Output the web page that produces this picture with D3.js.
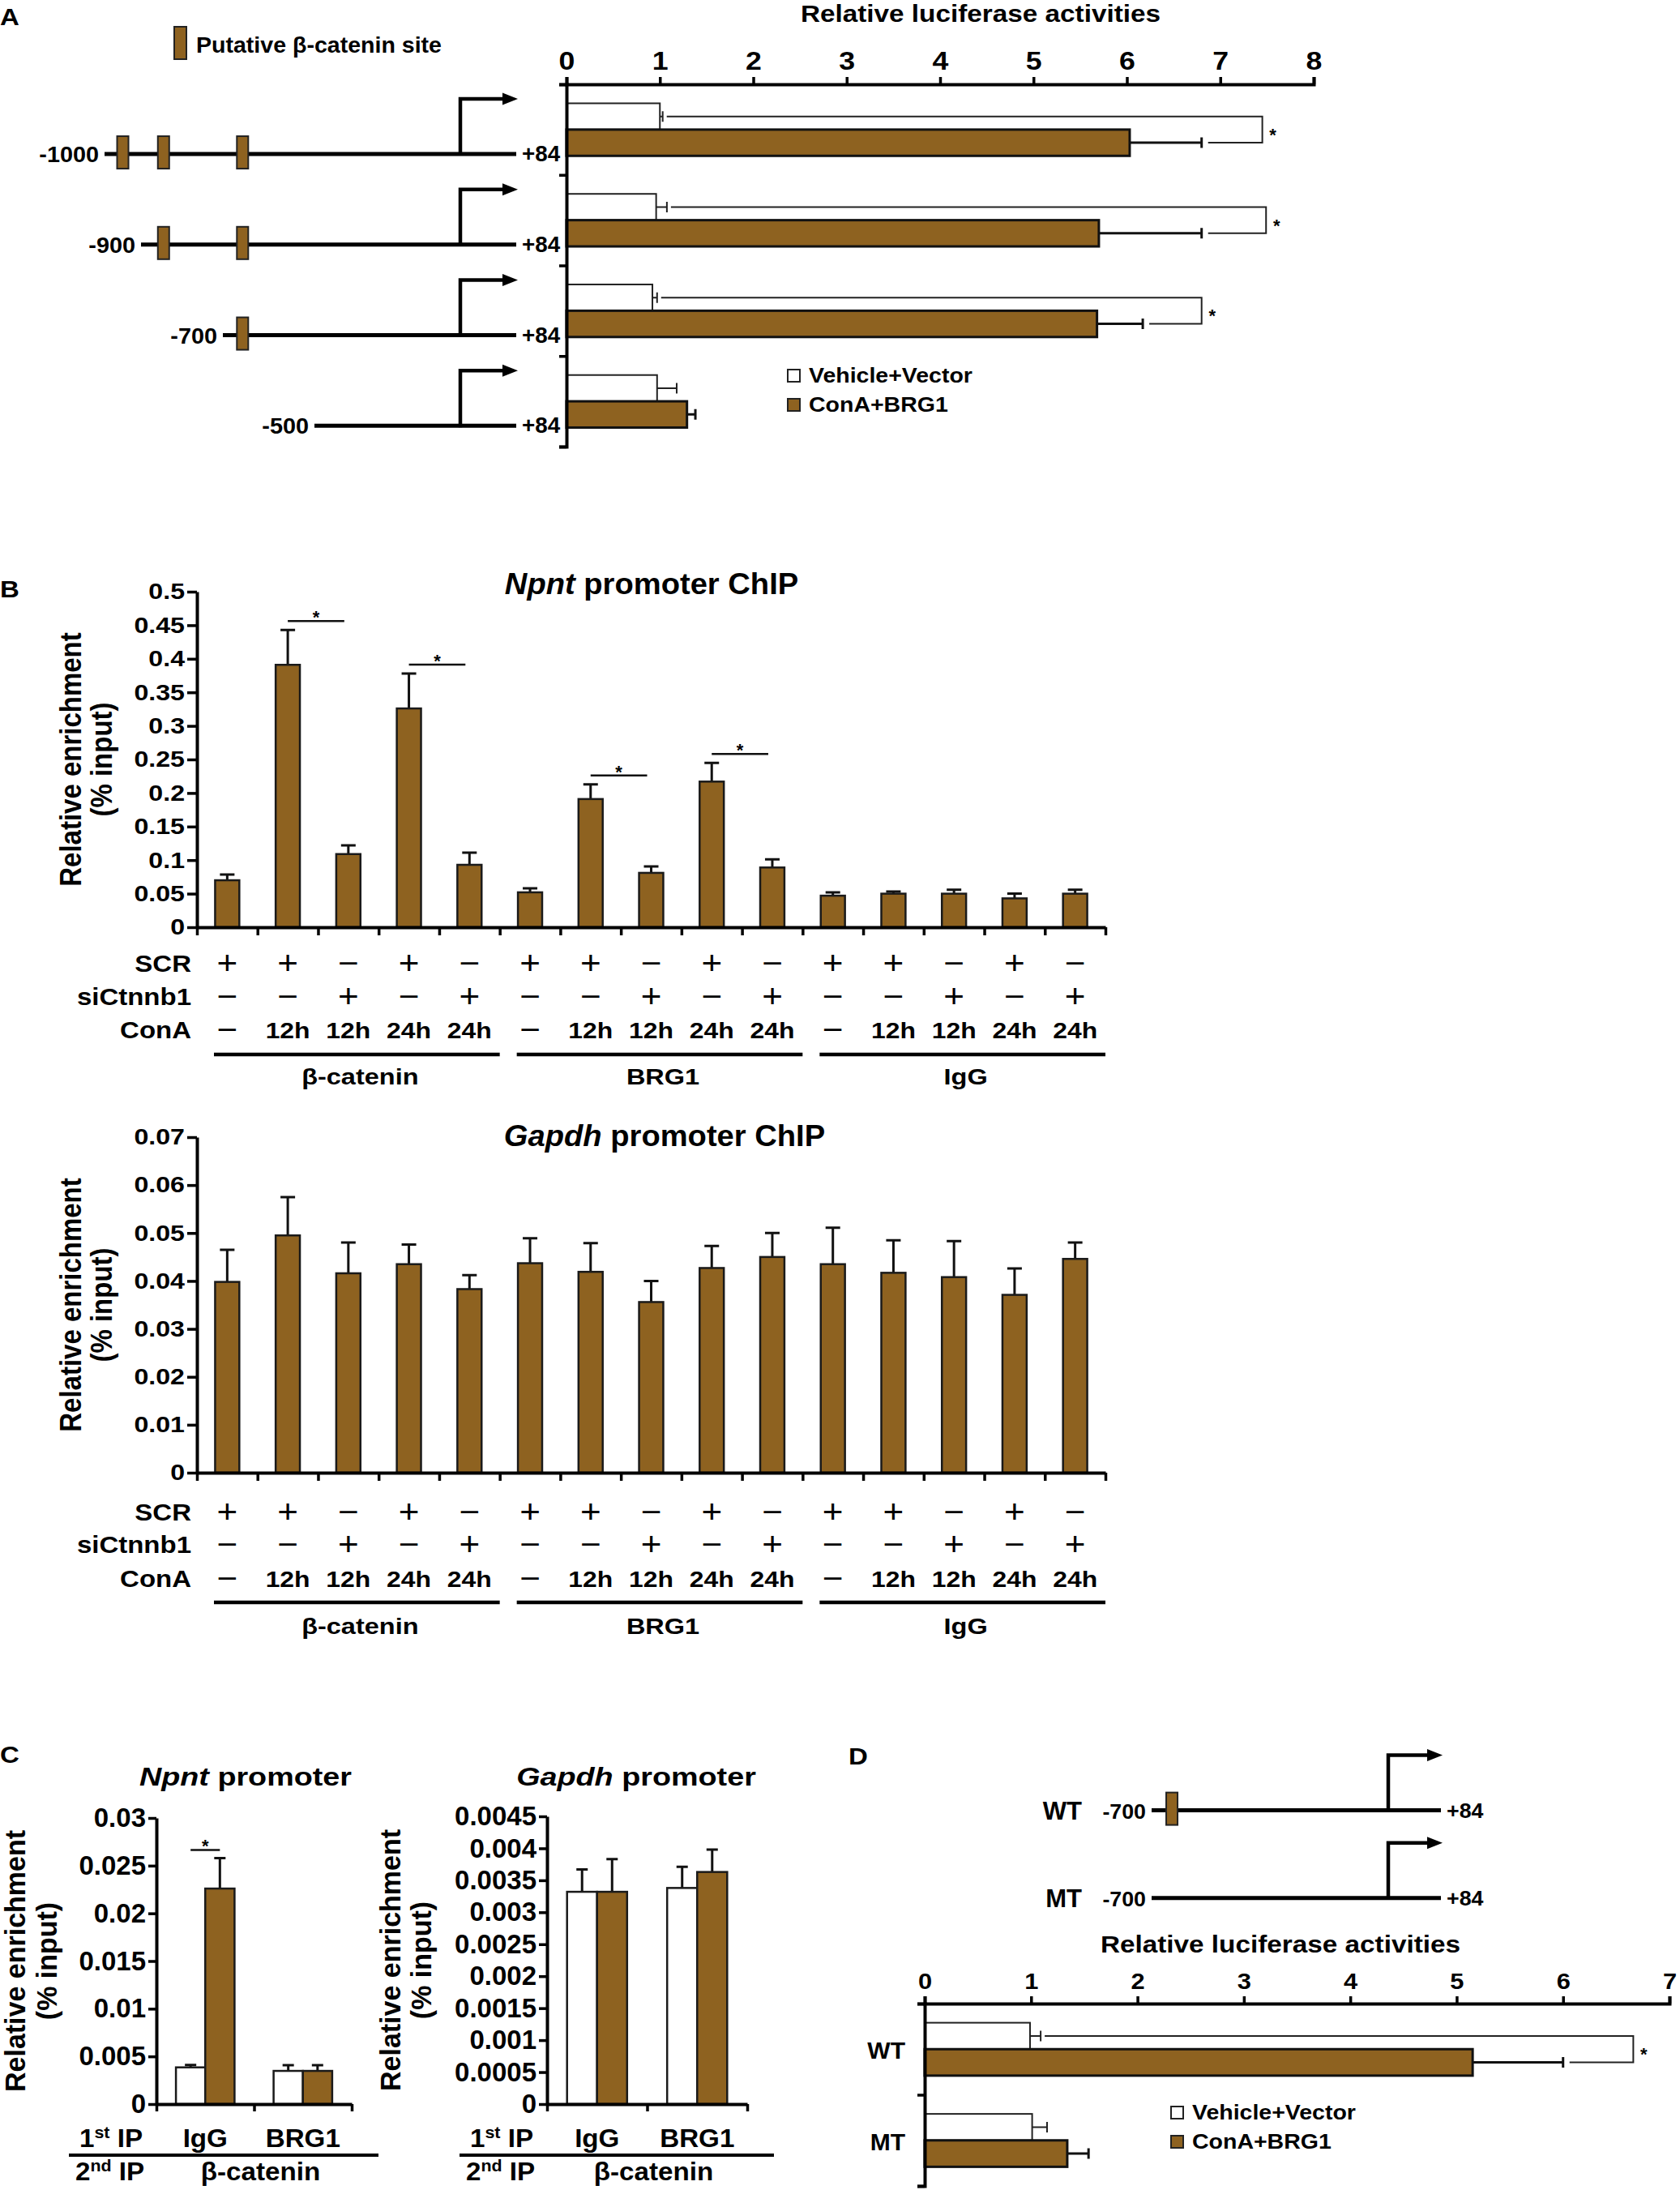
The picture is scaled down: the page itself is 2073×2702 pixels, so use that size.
<!DOCTYPE html>
<html>
<head>
<meta charset="utf-8">
<script src="https://cdn.jsdelivr.net/npm/d3@7/dist/d3.min.js"></script>
<style>
  body { margin: 0; background: #fff; }
  svg text { font-family: "Liberation Sans", Arial, Helvetica, sans-serif; font-weight: bold; fill: #000; }
</style>
</head>
<body>
<div id="figure"></div>
<script>
var totWidth = 2073;
var totHeight = 2702;
var brown = "#8e6220";

//-- Panel A data (deletion constructs, luciferase)
var constructsA = ["-1000", "-900", "-700", "-500"];
var startsA = [-1000, -900, -700, -500];
var sitesA = [[-950, -845, -657], [-845, -657], [-657], []];
var vehicleA = [1.0, 0.96, 0.92, 0.97];
var vehicleErrA = [0.03, 0.115, 0.05, 0.21];
var conaA = [6.03, 5.70, 5.68, 1.29];
var conaErrA = [0.77, 1.10, 0.49, 0.09];
var bracketA = [7.45, 7.49, 6.80, null];
var ticksA = [0, 1, 2, 3, 4, 5, 6, 7, 8];

//-- Panel B data (ChIP)
var rowNamesB = ["SCR", "siCtnnb1", "ConA"];
var scrRow = ["+", "+", "\u2212", "+", "\u2212"];
var siRow = ["\u2212", "\u2212", "+", "\u2212", "+"];
var conaRow = ["\u2212", "12h", "12h", "24h", "24h"];
var antibodiesB = ["\u03b2-catenin", "BRG1", "IgG"];
var npntB = [0.070, 0.391, 0.109, 0.326, 0.093, 0.052, 0.191, 0.081, 0.217, 0.089, 0.047, 0.050, 0.050, 0.043, 0.050];
var npntErrB = [0.0085, 0.052, 0.013, 0.052, 0.018, 0.006, 0.022, 0.0095, 0.028, 0.012, 0.005, 0.003, 0.006, 0.007, 0.006];
var npntSigB = [[1, 2], [3, 4], [6, 7], [8, 9]];
var npntTicksB = [0, 0.05, 0.1, 0.15, 0.2, 0.25, 0.3, 0.35, 0.4, 0.45, 0.5];
var gapdhB = [0.0398, 0.0495, 0.0416, 0.0435, 0.0383, 0.0437, 0.0419, 0.0356, 0.0427, 0.045, 0.0435, 0.0417, 0.0408, 0.0371, 0.0446];
var gapdhErrB = [0.0067, 0.008, 0.0064, 0.0041, 0.0029, 0.0052, 0.006, 0.0044, 0.0046, 0.005, 0.0076, 0.0068, 0.0075, 0.0055, 0.0034];
var gapdhTicksB = [0, 0.01, 0.02, 0.03, 0.04, 0.05, 0.06, 0.07];

//-- Panel C data (Re-ChIP)
var firstIpC = ["IgG", "BRG1"];
var npntVehC = [0.00385, 0.00348];
var npntVehErrC = [0.00025, 0.0006];
var npntConC = [0.0226, 0.00348];
var npntConErrC = [0.0032, 0.0006];
var npntTicksC = [0, 0.005, 0.01, 0.015, 0.02, 0.025, 0.03];
var gapdhVehC = [0.00332, 0.00338];
var gapdhVehErrC = [0.00035, 0.00033];
var gapdhConC = [0.00332, 0.00363];
var gapdhConErrC = [0.00051, 0.00035];
var gapdhTicksC = [0, 0.0005, 0.001, 0.0015, 0.002, 0.0025, 0.003, 0.0035, 0.004, 0.0045];

//-- Panel D data (site mutation)
var constructsD = ["WT", "MT"];
var sitesD = [[-640], []];
var vehicleD = [0.99, 1.01];
var vehicleErrD = [0.10, 0.14];
var conaD = [5.15, 1.34];
var conaErrD = [0.85, 0.20];
var bracketD = [6.66, null];
var ticksD = [0, 1, 2, 3, 4, 5, 6, 7];

//-- Svg
var svg = d3.select("#figure")
  .append("svg")
    .attr("width", totWidth)
    .attr("height", totHeight);
svg.append("rect").attr("width", totWidth).attr("height", totHeight).attr("fill", "#fff");

//-- Helpers
function txt(g, x, y, str, size, o) {
  o = o || {};
  var tr = "translate(" + x + "," + y + ") scale(" + (o.sx || 1) + ",1)";
  if (o.rot) tr += " rotate(" + o.rot + ")";
  return g.append("text")
    .attr("transform", tr)
    .attr("text-anchor", o.anchor || "start")
    .style("font-size", size + "px")
    .style("font-weight", o.weight || "bold")
    .text(str);
}

function geneTitle(g, x, y, gene, rest, size, sx) {
  var t = g.append("text")
    .attr("transform", "translate(" + x + "," + y + ") scale(" + sx + ",1)")
    .attr("text-anchor", "middle")
    .style("font-size", size + "px");
  t.append("tspan").style("font-style", "italic").text(gene);
  t.append("tspan").text(rest);
}

function styleAxis(sel, w) {
  sel.select(".domain").attr("stroke", "#000").attr("stroke-width", w);
  sel.selectAll(".tick line").attr("stroke", "#000").attr("stroke-width", w - 0.5);
}

function styleTicks(sel, size, sx) {
  sel.selectAll(".tick text")
    .attr("fill", "#000")
    .style("font-size", size + "px")
    .style("font-weight", "bold")
    .each(function() {
      var t = d3.select(this);
      var x = +t.attr("x") || 0;
      t.attr("x", x / sx).attr("transform", "scale(" + sx + ",1)");
    });
}

var numFmt = function(d) { return String(+d.toFixed(4)); };

function drawPromoter(g, px, y, start, sites, startLabel, sizes) {
  g.append("line")
    .attr("x1", px(start)).attr("x2", px(84))
    .attr("y1", y).attr("y2", y)
    .attr("stroke", "#000").attr("stroke-width", 5);
  var ay = y - 68, tip = px(84) + 2;
  g.append("path")
    .attr("d", "M" + px(0) + "," + (y + 2) + "V" + ay + "H" + (tip - 15))
    .attr("fill", "none").attr("stroke", "#000").attr("stroke-width", 4.5);
  g.append("path")
    .attr("d", "M" + (tip - 19) + "," + (ay - 7.5) + "L" + tip + "," + ay + "L" + (tip - 19) + "," + (ay + 7.5) + "Z")
    .attr("fill", "#000");
  sites.forEach(function(s) {
    g.append("rect")
      .attr("x", px(s) - 7).attr("y", y - 22)
      .attr("width", 14).attr("height", 40)
      .attr("fill", brown).attr("stroke", "#222").attr("stroke-width", 2);
  });
  txt(g, px(start) - 7, y + 10, startLabel, sizes[0], {anchor: "end", sx: 1.03});
  txt(g, px(84) + 7, y + 9, "+84", sizes[1], {sx: 1.03});
}

//-- Horizontal luciferase bars (panels A and D)
function drawLuc(cfg) {
  var g = svg.append("g");
  var x = d3.scaleLinear().domain([0, cfg.ticks[cfg.ticks.length - 1]]).range([cfg.left, cfg.right]);
  var y = d3.scaleBand().domain(cfg.cats).range([cfg.top, cfg.bottom]);
  var yb = d3.scaleLinear().domain([0, cfg.cats.length]).range([cfg.top, cfg.bottom]);
  var bw = y.bandwidth(), h = bw * 0.29;
  var wy = function(c) { return y(c) + bw * 0.21; };
  var by = function(c) { return y(c) + bw * 0.5; };

  g.selectAll(".veh").data(cfg.cats).enter().append("rect")
    .attr("x", x(0)).attr("y", wy)
    .attr("width", function(d, i) { return x(cfg.veh[i]) - x(0); })
    .attr("height", h)
    .attr("fill", "#fff").attr("stroke", "#222").attr("stroke-width", 2);
  g.selectAll(".con").data(cfg.cats).enter().append("rect")
    .attr("x", x(0)).attr("y", by)
    .attr("width", function(d, i) { return x(cfg.con[i]) - x(0); })
    .attr("height", h)
    .attr("fill", brown).attr("stroke", "#111").attr("stroke-width", 3);

  cfg.cats.forEach(function(c, i) {
    var wm = wy(c) + h / 2, bm = by(c) + h / 2;
    var we = x(cfg.veh[i] + cfg.vehErr[i]), be = x(cfg.con[i] + cfg.conErr[i]);
    g.append("path")
      .attr("d", "M" + x(cfg.veh[i]) + "," + wm + "H" + we + "M" + we + "," + (wm - 6.5) + "V" + (wm + 6.5))
      .attr("stroke", "#222").attr("stroke-width", 2).attr("fill", "none");
    g.append("path")
      .attr("d", "M" + x(cfg.con[i]) + "," + bm + "H" + be + "M" + be + "," + (bm - 6.5) + "V" + (bm + 6.5))
      .attr("stroke", "#111").attr("stroke-width", 3).attr("fill", "none");
    if (cfg.bracket[i] != null) {
      var bx = x(cfg.bracket[i]);
      g.append("path")
        .attr("d", "M" + (we + 5) + "," + wm + "H" + bx + "V" + bm + "H" + (be + 8))
        .attr("stroke", "#222").attr("stroke-width", 2).attr("fill", "none");
      txt(g, bx + 13, (wm + bm) / 2 + 14, "*", 22, {anchor: "middle"});
    }
  });

  //-- Axes
  var xa = g.append("g")
    .attr("transform", "translate(0," + cfg.top + ")")
    .call(d3.axisTop(x).tickValues(cfg.ticks).tickSize(9).tickPadding(9).tickSizeOuter(9).tickFormat(d3.format("d")));
  styleAxis(xa, 4);
  styleTicks(xa, cfg.tickSize, cfg.tickSx);

  var ya = g.append("g")
    .attr("transform", "translate(" + cfg.left + ",0)")
    .call(d3.axisLeft(yb).tickValues(d3.range(0, cfg.cats.length + 1)).tickSize(9).tickSizeOuter(9).tickFormat(""));
  styleAxis(ya, 4);

  txt(g, cfg.titleX, cfg.titleY, "Relative luciferase activities", 30, {anchor: "middle", sx: 1.11});

  //-- Legend
  var lg = [["Vehicle+Vector", "#fff"], ["ConA+BRG1", brown]];
  lg.forEach(function(l, i) {
    var ly = cfg.legendY + i * 36;
    g.append("rect").attr("x", cfg.legendX).attr("y", ly).attr("width", 15).attr("height", 15)
      .attr("fill", l[1]).attr("stroke", "#222").attr("stroke-width", 2);
    txt(g, cfg.legendX + 26, ly + 16, l[0], 25, {sx: 1.14});
  });

  return {y: y, bw: bw};
}

//-- Panel A
var gA = svg.append("g");
txt(gA, 0, 31, "A", 30, {sx: 1.1});
var resA = drawLuc({
  cats: constructsA, veh: vehicleA, vehErr: vehicleErrA, con: conaA, conErr: conaErrA,
  bracket: bracketA, ticks: ticksA, left: 699, right: 1621, top: 104, bottom: 551,
  tickSize: 31, tickSx: 1.15, titleX: 1210, titleY: 27, legendX: 972, legendY: 456
});
var pxA = d3.scaleLinear().domain([-1000, -900, -700, -500, 0, 84]).range([129, 174, 275, 388, 568, 637]);
constructsA.forEach(function(c, i) {
  drawPromoter(gA, pxA, resA.y(c) + resA.bw * 0.77, startsA[i], sitesA[i], c, [28, 27]);
});
gA.append("rect").attr("x", 215).attr("y", 33).attr("width", 15).attr("height", 40)
  .attr("fill", brown).attr("stroke", "#222").attr("stroke-width", 2);
txt(gA, 242, 65, "Putative \u03b2-catenin site", 28, {sx: 1.02});

//-- Panel B: ChIP bar charts
function drawChIP(cfg) {
  var g = svg.append("g");
  var left = 243, right = 1364;
  var y = d3.scaleLinear().domain([0, cfg.ticks[cfg.ticks.length - 1]]).range([cfg.base, cfg.top]);
  var idx = d3.range(cfg.values.length);
  var x = d3.scaleBand().domain(idx).range([left, right]).paddingInner(0.6).paddingOuter(0.3);
  var xt = d3.scaleLinear().domain([0, idx.length]).range([left, right]);
  var cx = function(i) { return x(i) + x.bandwidth() / 2; };

  idx.forEach(function(i) {
    var v = cfg.values[i], e = cfg.errs[i];
    g.append("path")
      .attr("d", "M" + cx(i) + "," + y(v) + "V" + y(v + e) + "M" + (cx(i) - 9) + "," + y(v + e) + "H" + (cx(i) + 9))
      .attr("stroke", "#111").attr("stroke-width", 3).attr("fill", "none");
  });
  g.selectAll(".bar").data(cfg.values).enter().append("rect")
    .attr("x", function(d, i) { return x(i); })
    .attr("y", function(d) { return y(d); })
    .attr("width", x.bandwidth())
    .attr("height", function(d) { return y(0) - y(d); })
    .attr("fill", brown).attr("stroke", "#1a1a1a").attr("stroke-width", 2.5);

  cfg.sig.forEach(function(p) {
    var ly = y(cfg.values[p[0]] + cfg.errs[p[0]]) - 11;
    var x1 = cx(p[0]), x2 = cx(p[1]) - 5;
    g.append("line").attr("x1", x1).attr("x2", x2).attr("y1", ly).attr("y2", ly)
      .attr("stroke", "#111").attr("stroke-width", 2.5);
    txt(g, (x1 + x2) / 2, ly + 3, "*", 22, {anchor: "middle"});
  });

  var ya = g.append("g")
    .attr("transform", "translate(" + left + ",0)")
    .call(d3.axisLeft(y).tickValues(cfg.ticks).tickSize(12).tickPadding(3).tickSizeOuter(0).tickFormat(numFmt));
  styleAxis(ya, 4);
  styleTicks(ya, 27.5, 1.17);

  var xa = g.append("g")
    .attr("transform", "translate(0," + cfg.base + ")")
    .call(d3.axisBottom(xt).tickValues(d3.range(0, idx.length + 1)).tickSize(10).tickSizeOuter(0).tickFormat(""));
  styleAxis(xa, 4);

  //-- Condition rows
  var rows = [scrRow, siRow, conaRow];
  rows.forEach(function(row, r) {
    var ry = cfg.base + cfg.rowOff[r];
    txt(g, 236, ry, rowNamesB[r], 30, {anchor: "end", sx: 1.1});
    idx.forEach(function(i) {
      var s = row[i % row.length];
      if (s === "+" || s === "\u2212") txt(g, cx(i), ry + 3, s, 40, {anchor: "middle", sx: 1.1, weight: "normal"});
      else txt(g, cx(i), ry, s, 27.5, {anchor: "middle", sx: 1.16});
    });
  });

  //-- Antibody groups
  antibodiesB.forEach(function(a, k) {
    var x1 = xt(k * 5) + 21, x2 = xt(k * 5 + 5);
    g.append("line").attr("x1", x1).attr("x2", x2)
      .attr("y1", cfg.base + cfg.lineOff).attr("y2", cfg.base + cfg.lineOff)
      .attr("stroke", "#000").attr("stroke-width", 4.3);
    txt(g, (x1 + x2) / 2 + 4, cfg.base + cfg.labelOff, a, 28, {anchor: "middle", sx: 1.16});
  });

  geneTitle(g, cfg.titleX, cfg.titleY, cfg.gene, " promoter ChIP", 36, 1.06);

  var mid = (cfg.base + cfg.top) / 2;
  txt(g, 100, mid, "Relative enrichment", 33, {anchor: "middle", sx: 1.14, rot: -90});
  txt(g, 138, mid, "(% input)", 33, {anchor: "middle", sx: 1.14, rot: -90});
}

var gB = svg.append("g");
txt(gB, 0, 737, "B", 30, {sx: 1.1});
drawChIP({
  values: npntB, errs: npntErrB, sig: npntSigB, ticks: npntTicksB,
  base: 1144, top: 730, gene: "Npnt", titleX: 804, titleY: 733,
  rowOff: [55, 96, 137], lineOff: 157, labelOff: 194
});
drawChIP({
  values: gapdhB, errs: gapdhErrB, sig: [], ticks: gapdhTicksB,
  base: 1817, top: 1403, gene: "Gapdh", titleX: 820, titleY: 1414,
  rowOff: [59, 99, 141], lineOff: 160, labelOff: 199
});

//-- Panel C: Re-ChIP
function drawCoIP(cfg) {
  var g = svg.append("g");
  var y = d3.scaleLinear().domain([0, cfg.ticks[cfg.ticks.length - 1]]).range([cfg.base, cfg.top]);
  var x = d3.scaleBand().domain(firstIpC).range([cfg.left, cfg.right]).paddingInner(0.4).paddingOuter(0.2);
  var xt = d3.scaleLinear().domain([0, firstIpC.length]).range([cfg.left, cfg.right]);
  var bw = x.bandwidth() / 2;
  var series = [[cfg.veh, cfg.vehErr, "#fff"], [cfg.con, cfg.conErr, brown]];

  series.forEach(function(s, k) {
    firstIpC.forEach(function(c, i) {
      var bx = x(c) + k * bw, v = s[0][i], e = s[1][i], m = bx + bw / 2;
      g.append("path")
        .attr("d", "M" + m + "," + y(v) + "V" + y(v + e) + "M" + (m - 7) + "," + y(v + e) + "H" + (m + 7))
        .attr("stroke", "#111").attr("stroke-width", 3).attr("fill", "none");
      g.append("rect")
        .attr("x", bx).attr("y", y(v)).attr("width", bw).attr("height", y(0) - y(v))
        .attr("fill", s[2]).attr("stroke", "#1a1a1a").attr("stroke-width", 2.5);
    });
  });

  if (cfg.sig) {
    var c0 = firstIpC[0];
    var ly = y(cfg.con[0] + cfg.conErr[0]) - 10;
    var x1 = x(c0) + bw / 2, x2 = x(c0) + bw * 1.5;
    g.append("line").attr("x1", x1).attr("x2", x2).attr("y1", ly).attr("y2", ly)
      .attr("stroke", "#111").attr("stroke-width", 2.5);
    txt(g, (x1 + x2) / 2, ly + 3, "*", 22, {anchor: "middle"});
  }

  var ya = g.append("g")
    .attr("transform", "translate(" + cfg.left + ",0)")
    .call(d3.axisLeft(y).tickValues(cfg.ticks).tickSize(10).tickPadding(3).tickSizeOuter(0).tickFormat(numFmt));
  styleAxis(ya, 4);
  styleTicks(ya, 33, 1.0);

  var xa = g.append("g")
    .attr("transform", "translate(0," + cfg.base + ")")
    .call(d3.axisBottom(xt).tickValues(d3.range(0, firstIpC.length + 1)).tickSize(9).tickSizeOuter(0).tickFormat(""));
  styleAxis(xa, 4);

  //-- IP labels
  var l1 = g.append("text")
    .attr("transform", "translate(" + (cfg.left - 95) + "," + (cfg.base + 53) + ") scale(1.07,1)")
    .style("font-size", "31px");
  l1.append("tspan").text("1");
  l1.append("tspan").attr("dy", -11).style("font-size", "20px").text("st");
  l1.append("tspan").attr("dy", 11).text(" IP");
  firstIpC.forEach(function(c) {
    txt(g, x(c) + x.bandwidth() / 2, cfg.base + 53, c, 31, {anchor: "middle", sx: 1.07});
  });
  g.append("line").attr("x1", cfg.left - 108).attr("x2", cfg.right + 33)
    .attr("y1", cfg.base + 63).attr("y2", cfg.base + 63)
    .attr("stroke", "#000").attr("stroke-width", 4);
  var l2 = g.append("text")
    .attr("transform", "translate(" + (cfg.left - 100) + "," + (cfg.base + 94) + ") scale(1.07,1)")
    .style("font-size", "31px");
  l2.append("tspan").text("2");
  l2.append("tspan").attr("dy", -11).style("font-size", "20px").text("nd");
  l2.append("tspan").attr("dy", 11).text(" IP");
  txt(g, (cfg.left + cfg.right) / 2 + 8, cfg.base + 94, "\u03b2-catenin", 31, {anchor: "middle", sx: 1.07});

  geneTitle(g, cfg.left + 110, 2203, cfg.gene, " promoter", 32, 1.18);

  var mid = (cfg.base + cfg.top) / 2;
  txt(g, cfg.yTitleX[0], mid, "Relative enrichment", 34, {anchor: "middle", sx: 1.03, rot: -90});
  txt(g, cfg.yTitleX[1], mid, "(% input)", 34, {anchor: "middle", sx: 1.03, rot: -90});
}

var gC = svg.append("g");
txt(gC, 0, 2175, "C", 30, {sx: 1.1});
drawCoIP({
  veh: npntVehC, vehErr: npntVehErrC, con: npntConC, conErr: npntConErrC, ticks: npntTicksC,
  left: 193, right: 434, base: 2596, top: 2243, gene: "Npnt", sig: true, yTitleX: [31, 70]
});
drawCoIP({
  veh: gapdhVehC, vehErr: gapdhVehErrC, con: gapdhConC, conErr: gapdhConErrC, ticks: gapdhTicksC,
  left: 675, right: 922, base: 2596, top: 2241, gene: "Gapdh", sig: false, yTitleX: [494, 532]
});

//-- Panel D
var gD = svg.append("g");
txt(gD, 1047, 2177, "D", 30, {sx: 1.1});
var resD = drawLuc({
  cats: constructsD, veh: vehicleD, vehErr: vehicleErrD, con: conaD, conErr: conaErrD,
  bracket: bracketD, ticks: ticksD, left: 1141, right: 2060, top: 2472, bottom: 2697,
  tickSize: 28, tickSx: 1.1, titleX: 1580, titleY: 2409, legendX: 1445, legendY: 2599
});
constructsD.forEach(function(c) {
  txt(gD, 1117, resD.y(c) + resD.bw / 2 + 12, c, 30, {anchor: "end"});
});
var pxD = d3.scaleLinear().domain([-700, 0, 84]).range([1421, 1713, 1778]);
var rowYD = [2233.6, 2341.8];
constructsD.forEach(function(c, i) {
  drawPromoter(gD, pxD, rowYD[i], -700, sitesD[i], "-700", [26, 26]);
  txt(gD, 1335, rowYD[i] + 11, c, 31, {anchor: "end"});
});
</script>
</body>
</html>
